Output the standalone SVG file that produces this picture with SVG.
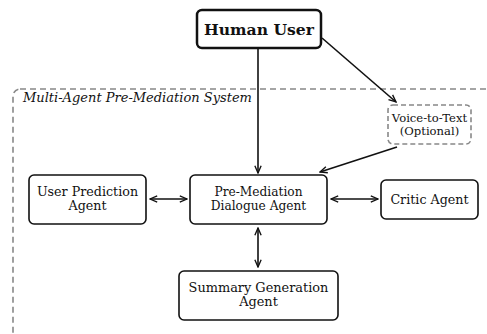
<svg xmlns="http://www.w3.org/2000/svg" width="487" height="334" viewBox="0 0 487 334">
<style>
text{font-family:"DejaVu Serif",serif;fill:#111;text-anchor:middle}
.n{fill:#fff;stroke:#111;stroke-width:1.6}
.c{stroke:#111;stroke-width:1.6;fill:none}
</style>
<defs>
<marker id="a" viewBox="0 0 10 10" refX="9" refY="5" markerWidth="9" markerHeight="9" orient="auto-start-reverse" markerUnits="userSpaceOnUse"><path d="M1,1.5 L9,5 L1,8.5" fill="none" stroke="#111" stroke-width="1.5"/></marker>
</defs>
<rect width="487" height="334" fill="#fff"/>
<g id="container">
<rect x="13" y="89" width="490" height="260" rx="7" fill="none" stroke="#888" stroke-width="1.6" stroke-dasharray="6,4"/>
<text x="23" y="102" style="text-anchor:start;font-style:italic;font-size:13px">Multi-Agent Pre-Mediation System</text>
</g>
<g id="connectors">
<path class="c" d="M258,48 V173" marker-end="url(#a)"/>
<path class="c" d="M322,38 L396,102" marker-end="url(#a)"/>
<path class="c" d="M397,147 L320,172" marker-end="url(#a)"/>
<path class="c" d="M150,199 H187" marker-start="url(#a)" marker-end="url(#a)"/>
<path class="c" d="M331,199 H378" marker-start="url(#a)" marker-end="url(#a)"/>
<path class="c" d="M258,228 V267" marker-start="url(#a)" marker-end="url(#a)"/>
</g>
<g id="human-user">
<rect x="197" y="10" width="124" height="38" rx="5" class="n" style="stroke-width:2.5"/>
<text x="259" y="35" style="font-weight:bold;font-size:15.6px">Human User</text>
</g>
<g id="voice-to-text">
<rect x="388" y="105" width="83" height="39" rx="5" fill="#fff" stroke="#888" stroke-width="1.6" stroke-dasharray="5,3"/>
<text x="429.5" y="122" style="font-size:11.6px">Voice-to-Text</text>
<text x="429.5" y="135" style="font-size:11.6px">(Optional)</text>
</g>
<g id="user-prediction">
<rect x="29" y="175" width="117" height="49" rx="5" class="n"/>
<text x="87.5" y="196" style="font-size:12.7px">User Prediction</text>
<text x="87.5" y="210" style="font-size:12.7px">Agent</text>
</g>
<g id="pre-mediation">
<rect x="190" y="175" width="137" height="49" rx="5" class="n"/>
<text x="258.5" y="196" style="font-size:12.2px">Pre-Mediation</text>
<text x="258.5" y="210" style="font-size:12.2px">Dialogue Agent</text>
</g>
<g id="critic">
<rect x="381" y="180" width="97" height="39" rx="5" class="n"/>
<text x="429.5" y="204" style="font-size:12.7px">Critic Agent</text>
</g>
<g id="summary">
<rect x="179" y="271" width="159" height="49" rx="5" class="n"/>
<text x="258.5" y="292" style="font-size:12.9px">Summary Generation</text>
<text x="258.5" y="306" style="font-size:12.9px">Agent</text>
</g>
</svg>
